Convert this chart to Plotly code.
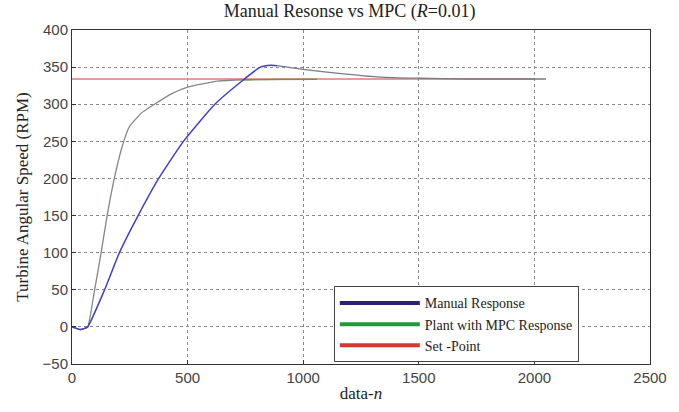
import plotly.graph_objects as go

# Plant with MPC response
mpc_x = [0, 20, 37, 55, 68, 98, 126, 152, 183, 217, 247, 300, 362, 430, 500, 630, 742, 900, 1060]
mpc_y = [0, -2, -3.5, -2, 0, 50, 100, 150, 200, 243, 269, 288, 301, 314, 323, 331, 333, 333.5, 333.5]

# Manual response (rising part)
man_x = [0, 37, 55, 68, 141, 205, 286, 375, 482, 618, 742, 815, 860, 887]
man_y = [0, -3.5, -2, 0, 50, 100, 150, 200, 250, 300, 333, 350, 352.5, 352]
# Manual response (decay part)
dec_x = [887, 1000, 1143, 1334, 1505, 1700, 1900, 2050]
dec_y = [352, 347, 342, 336.6, 335, 334, 334, 334]

sp_x = [0, 2000]
sp_y = [334, 334]

fig = go.Figure()
fig.add_trace(go.Scatter(x=sp_x, y=sp_y, mode="lines", line=dict(color="#e07a78", width=1.5), showlegend=False))
fig.add_trace(go.Scatter(x=mpc_x, y=mpc_y, mode="lines", line=dict(color="#7f8a7f", width=1.3, shape="spline", smoothing=0.5), showlegend=False))
fig.add_trace(go.Scatter(x=[742, 1060], y=[333, 333.5], mode="lines", line=dict(color="#6a9a3a", width=1.3), showlegend=False))
fig.add_trace(go.Scatter(x=man_x, y=man_y, mode="lines", line=dict(color="#4040c0", width=1.5, shape="spline", smoothing=0.5), showlegend=False))
fig.add_trace(go.Scatter(x=dec_x, y=dec_y, mode="lines", line=dict(color="#7a7a88", width=1.3, shape="spline", smoothing=0.6), showlegend=False))

legend_names = ["Manual Response", "Plant with MPC Response", "Set -Point"]
legend_colors = ["#2e1f7a", "#1f9a3a", "#d23a30"]
for n, c in zip(legend_names, legend_colors):
    fig.add_trace(go.Scatter(x=[None], y=[None], mode="lines", name=n, line=dict(color=c, width=4)))

axis_common = dict(
    showline=True, linecolor="#333", linewidth=1, mirror=True,
    showgrid=True, gridcolor="#888", griddash="dot", gridwidth=1,
    ticks="inside", ticklen=4, tickcolor="#333",
    zeroline=False,
    tickfont=dict(family="Liberation Sans, Arial", size=15, color="#444"),
)
serif = "Liberation Serif, Times New Roman"
fig.update_xaxes(range=[0, 2500], dtick=500, **axis_common,
                 title=dict(text="data-<i>n</i>", font=dict(family=serif, size=17, color="#222"), standoff=2))
fig.update_yaxes(range=[-50, 400], dtick=50, **axis_common,
                 title=dict(text="Turbine Angular Speed (RPM)", font=dict(family=serif, size=17, color="#222"), standoff=9))

fig.update_layout(
    width=679, height=412,
    margin=dict(l=72, r=18, t=30, b=40),
    paper_bgcolor="white", plot_bgcolor="white",
    title=dict(text="Manual Resonse vs MPC (<i>R</i>=0.01)", x=0.515, xanchor="center", y=0.99, yanchor="top",
               font=dict(family=serif, size=18, color="#222")),
    legend=dict(x=0.453, y=0.005, xanchor="left", yanchor="bottom", bgcolor="white",
                bordercolor="#444", borderwidth=1, itemwidth=80, tracegroupgap=0,
                font=dict(family=serif, size=14, color="#222")),
)

fig.write_html("out.html")
